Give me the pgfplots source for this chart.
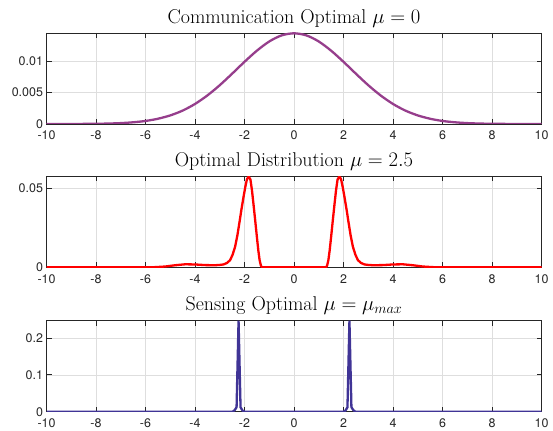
\documentclass[border=0pt]{standalone}
\usepackage{fontspec}
\usepackage{pgfplots}
\pgfplotsset{compat=1.18}
\newfontfamily\tickfont{TeX Gyre Heros}

\definecolor{commcol}{RGB}{150,62,140}
\definecolor{optcol}{RGB}{255,0,0}
\definecolor{senscol}{RGB}{64,52,150}
\definecolor{axcol}{RGB}{38,38,38}

\pgfplotsset{
  panel/.style={
    width=495bp, height=91bp, scale only axis,
    xmin=-10, xmax=10,
    xtick={-10,-8,...,10},
    tick align=inside, xtick pos=both, ytick pos=both,
    major tick length=5bp,
    grid=major,
    major grid style={color=black!13, line width=0.5bp},
    axis line style={color=axcol, line width=0.6bp},
    tick style={color=axcol, line width=0.6bp},
    ticklabel style={font=\tickfont\fontsize{12.5}{14}\selectfont, color=axcol},
    xticklabel style={yshift=-3.5bp},
    /pgf/number format/assume math mode=true,
    scaled y ticks=false,
    title style={font=\fontsize{20}{22}\selectfont, at={(0.5,1)}, anchor=base, yshift=4bp, inner sep=0pt},
    anchor=south west,
  },
}

\begin{document}
\begin{tikzpicture}
\path[use as bounding box] (0,0) rectangle (553bp,431bp);

% communication optimal, mu = 0
\begin{axis}[panel, at={(46.5bp,307bp)},
  ymin=0, ymax=0.0144,
  ytick={0,0.005,0.01}, yticklabels={0,0.005,0.01},
  title={Communication Optimal $\mu = 0$}]
\addplot[commcol, line width=2.3bp, smooth] coordinates {
(-10,0.000001)(-9.5,0.000003)(-9,0.000007)(-8.5,0.000016)(-8,0.000034)
(-7.5,0.00007)(-7,0.00014)(-6.5,0.00027)(-6,0.00048)(-5.5,0.00083)
(-5,0.00136)(-4.5,0.00212)(-4,0.00317)(-3.5,0.00452)(-3,0.00614)
(-2.5,0.00796)(-2,0.00984)(-1.5,0.01160)(-1,0.01306)(-0.5,0.01402)
(0,0.01435)
(0.5,0.01402)(1,0.01306)(1.5,0.01160)(2,0.00984)(2.5,0.00796)
(3,0.00614)(3.5,0.00452)(4,0.00317)(4.5,0.00212)(5,0.00136)
(5.5,0.00083)(6,0.00048)(6.5,0.00027)(7,0.00014)(7.5,0.00007)
(8,0.000034)(8.5,0.000016)(9,0.000007)(9.5,0.000003)(10,0.000001)
};
\end{axis}

% optimal distribution, mu = 2.5
\begin{axis}[panel, at={(46.5bp,163.7bp)},
  ymin=0, ymax=0.0576,
  ytick={0,0.05}, yticklabels={0,0.05},
  title={Optimal Distribution $\mu = 2.5$}]
\addplot[optcol, line width=2.3bp] coordinates {
(-10,0)(-6.4,0)(-6.0,0.00002)(-5.6,0.0001)(-5.2,0.0005)(-4.8,0.0013)
(-4.4,0.0019)(-4.0,0.0018)(-3.6,0.0014)(-3.2,0.0013)(-3.0,0.0015)
(-2.85,0.0018)(-2.70,0.0028)(-2.58,0.0046)(-2.48,0.0080)(-2.38,0.0130)
(-2.29,0.0200)(-2.20,0.0288)(-2.12,0.0370)(-2.04,0.0445)(-1.96,0.0515)
(-1.90,0.0558)(-1.83,0.0575)(-1.76,0.0555)(-1.70,0.0490)(-1.64,0.0404)
(-1.57,0.0300)(-1.50,0.0193)(-1.44,0.0105)(-1.39,0.0046)(-1.34,0.0012)
(-1.30,0)
(1.30,0)(1.34,0.0012)(1.39,0.0046)(1.44,0.0105)(1.50,0.0193)
(1.57,0.0300)(1.64,0.0404)(1.70,0.0490)(1.76,0.0555)(1.83,0.0575)
(1.90,0.0558)(1.96,0.0515)(2.04,0.0445)(2.12,0.0370)(2.20,0.0288)
(2.29,0.0200)(2.38,0.0130)(2.48,0.0080)(2.58,0.0046)(2.70,0.0028)
(2.85,0.0018)(3.0,0.0015)(3.2,0.0013)(3.6,0.0014)(4.0,0.0018)
(4.4,0.0019)(4.8,0.0013)(5.2,0.0005)(5.6,0.0001)(6.0,0.00002)
(6.4,0)(10,0)
};
\end{axis}

% sensing optimal, mu = mu_max
\begin{axis}[panel, at={(46.5bp,19.3bp)},
  ymin=0, ymax=0.2466,
  ytick={0,0.1,0.2}, yticklabels={0,0.1,0.2},
  title={Sensing Optimal $\mu = \mu_{max}$}]
\addplot[senscol, line width=2.3bp] coordinates {
(-10,0)(-2.48,0)(-2.40,0.004)(-2.32,0.012)(-2.24,0.2466)(-2.16,0.012)
(-2.08,0.003)(-2.00,0)
(2.00,0)(2.08,0.003)(2.16,0.012)(2.24,0.2466)(2.32,0.012)(2.40,0.004)
(2.48,0)(10,0)
};
\end{axis}
\end{tikzpicture}
\end{document}
